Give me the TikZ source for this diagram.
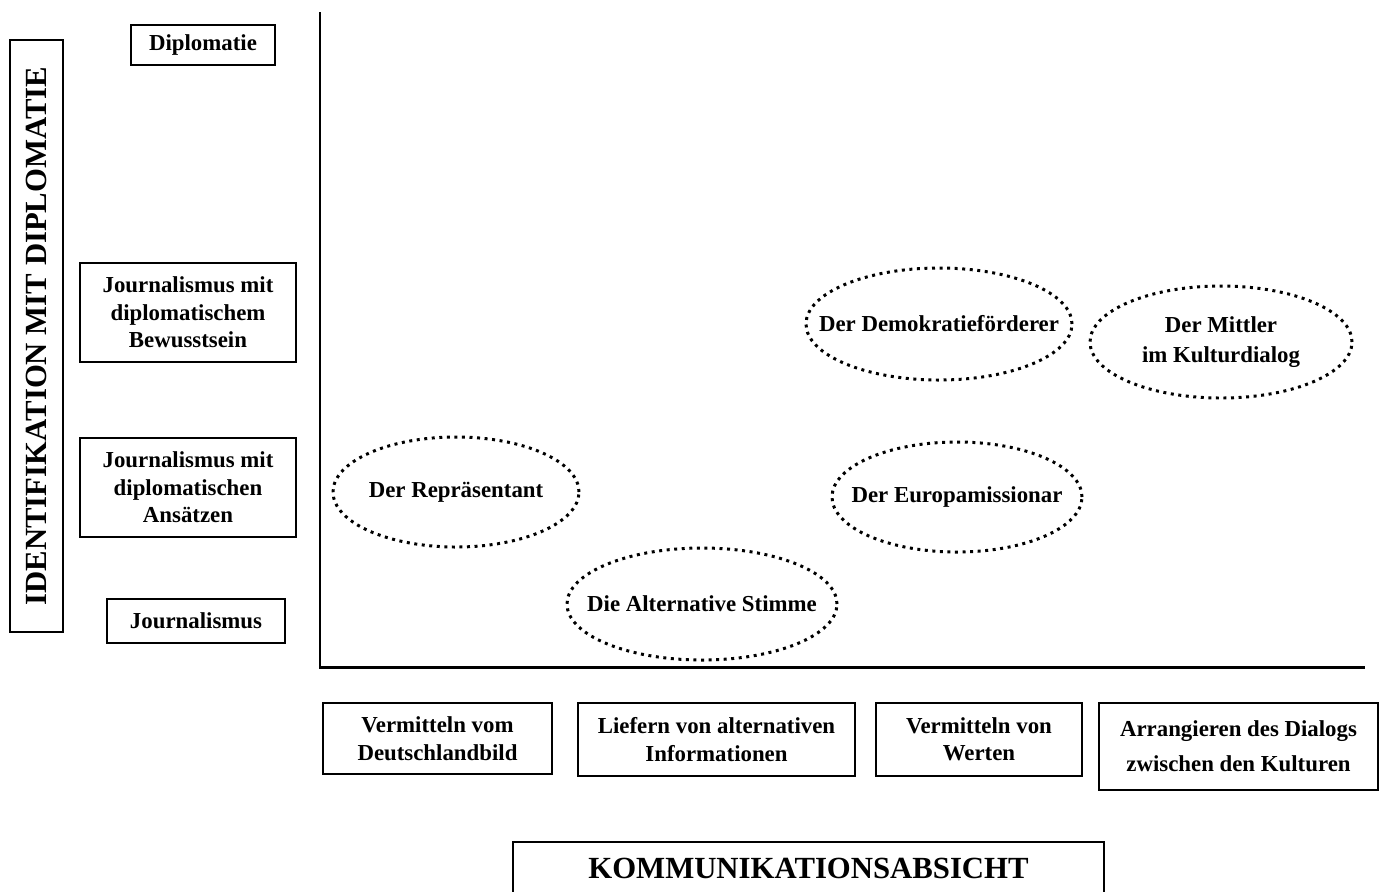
\documentclass[tikz,border=0pt]{standalone}
\usepackage{fontspec}
\setmainfont{Liberation Serif}
\tikzset{
  achse/.style={line width=1.7pt, draw=black},
  stufe/.style={draw=black, line width=1.1pt, rectangle, align=center, inner sep=0pt,
    font=\fontsize{13}{15.6}\selectfont\bfseries},
  titel/.style={draw=black, line width=1.1pt, rectangle, align=center, inner sep=0pt,
    font=\fontsize{17.5}{21}\selectfont\bfseries},
  rolle/.style={align=center, inner sep=0pt, font=\fontsize{13}{17}\selectfont\bfseries},
  rand/.style={draw=black, line width=1.7pt, dash pattern=on 1.7pt off 2.6pt}
}
\begin{document}
\begin{tikzpicture}[x=0.2mm, y=-0.2mm]
  \useasboundingbox (0,0) rectangle (1385,891);

  % axes
  \coordinate (ursprung) at (320,667);
  \coordinate (yende) at (320,12);
  \coordinate (xende) at (1365,667);
  \draw[achse] (yende) -- (ursprung) -- (xende);

  % vertical axis
  \node[titel, rotate=90, minimum width=118.4mm, minimum height=10.6mm] (ytitel) at (36.5,336) {IDENTIFIKATION MIT DIPLOMATIE};
  \node[stufe, minimum width=28.8mm, minimum height=8mm] (diplo) at (203,45) {Diplomatie};
  \node[stufe, minimum width=43.2mm, minimum height=19.8mm] (bewusst) at (188,312.5) {Journalismus mit\\diplomatischem\\Bewusstsein};
  \node[stufe, minimum width=43.2mm, minimum height=19.8mm] (ansatz) at (188,487.5) {Journalismus mit\\diplomatischen\\Ansätzen};
  \node[stufe, minimum width=35.6mm, minimum height=8.8mm] (journ) at (196,621) {Journalismus};

  % horizontal axis
  \node[stufe, minimum width=45.8mm, minimum height=14.2mm] (bild) at (437.5,738.5) {Vermitteln vom\\Deutschlandbild};
  \node[stufe, minimum width=55.4mm, minimum height=14.6mm] (infos) at (716.5,739.5) {Liefern von alternativen\\Informationen};
  \node[stufe, minimum width=41.2mm, minimum height=14.6mm] (werte) at (979,739.5) {Vermitteln von\\Werten};
  \node[stufe, minimum width=55.8mm, minimum height=17.4mm, font=\fontsize{13}{20}\selectfont\bfseries] (dialog) at (1238.5,746.5) {Arrangieren des Dialogs\\zwischen den Kulturen};
  \node[titel, minimum width=118.2mm, minimum height=10.4mm] (xtitel) at (808.5,868) {KOMMUNIKATIONSABSICHT};

  % roles
  \node[rolle] (repr) at (456,492) {Der Repräsentant};
  \node[rolle] (stimme) at (702,604) {Die Alternative Stimme};
  \node[rolle] (demo) at (939,324) {Der Demokratieförderer};
  \node[rolle] (mittler) at (1221,342) {Der Mittler\\im Kulturdialog};
  \node[rolle] (europa) at (957,497) {Der Europamissionar};

  \draw[rand] (repr) ellipse [x radius=24.6mm, y radius=11mm];
  \draw[rand] (stimme) ellipse [x radius=27mm, y radius=11.2mm];
  \draw[rand] (demo) ellipse [x radius=26.6mm, y radius=11.2mm];
  \draw[rand] (mittler) ellipse [x radius=26.2mm, y radius=11.2mm];
  \draw[rand] (europa) ellipse [x radius=25mm, y radius=11mm];
\end{tikzpicture}
\end{document}
